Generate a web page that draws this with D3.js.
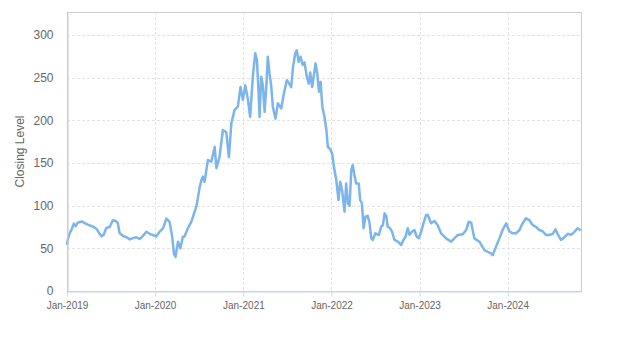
<!DOCTYPE html>
<html>
<head>
<meta charset="utf-8">
<script src="https://cdn.jsdelivr.net/npm/d3@7"></script>
<style>
  body { margin: 0; background: #fff; }
  svg { display: block; font-family: "Liberation Sans", Arial, sans-serif; }
</style>
</head>
<body>
<svg id="chart"></svg>
<script>
// Date di chiusura e livelli
const dates = [
  "2019-01-01","2019-01-04","2019-01-12","2019-01-20","2019-01-29","2019-02-06","2019-02-14","2019-03-03",
  "2019-03-19","2019-04-05","2019-04-22","2019-05-03","2019-05-16","2019-05-25","2019-06-02","2019-06-13",
  "2019-06-27","2019-07-10","2019-07-22","2019-07-30","2019-08-07","2019-08-21","2019-09-05","2019-09-18",
  "2019-10-01","2019-10-15","2019-10-29","2019-11-10","2019-11-26","2019-12-09","2019-12-23",
  "2020-01-06","2020-01-20","2020-02-03","2020-02-17","2020-03-01","2020-03-12","2020-03-19","2020-03-26",
  "2020-03-30","2020-04-05","2020-04-15","2020-04-25","2020-05-02","2020-05-16","2020-05-30","2020-06-13","2020-06-21",
  "2020-07-04","2020-07-11","2020-07-17","2020-07-24","2020-08-07","2020-08-21","2020-09-04","2020-09-11",
  "2020-09-24","2020-10-08","2020-10-22","2020-11-02","2020-11-12","2020-11-25","2020-12-09","2020-12-20",
  "2020-12-30",
  "2021-01-09","2021-01-20","2021-01-29","2021-02-09","2021-02-19","2021-02-26","2021-03-05","2021-03-09",
  "2021-03-16","2021-03-23","2021-03-30","2021-04-06","2021-04-12","2021-04-19","2021-04-26","2021-05-03",
  "2021-05-14","2021-05-24","2021-06-07","2021-06-14","2021-06-21","2021-06-30","2021-07-08","2021-07-18",
  "2021-07-25","2021-08-04","2021-08-10","2021-08-18","2021-08-26","2021-09-04","2021-09-11","2021-09-21",
  "2021-09-29","2021-10-05","2021-10-13","2021-10-19","2021-10-27","2021-11-03","2021-11-10","2021-11-17",
  "2021-11-24","2021-12-03","2021-12-11","2021-12-17","2021-12-27",
  "2022-01-04","2022-01-11","2022-01-21","2022-01-30","2022-02-06","2022-02-14","2022-02-24","2022-03-03",
  "2022-03-10","2022-03-17","2022-03-24","2022-03-30","2022-04-06","2022-04-13","2022-04-24","2022-04-30",
  "2022-05-07","2022-05-14","2022-05-22","2022-05-31","2022-06-07","2022-06-15","2022-06-21","2022-07-02",
  "2022-07-16","2022-07-26","2022-08-02","2022-08-09","2022-08-16","2022-08-22","2022-09-01","2022-09-09",
  "2022-09-19","2022-10-03","2022-10-17","2022-10-26","2022-11-04","2022-11-13","2022-11-20","2022-12-01",
  "2022-12-11","2022-12-20","2022-12-29",
  "2023-01-08","2023-01-17","2023-01-28","2023-02-04","2023-02-18","2023-03-04","2023-03-17","2023-03-31",
  "2023-04-21","2023-05-12","2023-05-25","2023-06-08","2023-06-29","2023-07-13","2023-07-24","2023-08-03",
  "2023-08-16","2023-09-06","2023-09-27","2023-10-10","2023-10-24","2023-10-31","2023-11-14","2023-11-28",
  "2023-12-11","2023-12-26",
  "2024-01-08","2024-01-22","2024-02-05","2024-02-19","2024-03-03","2024-03-17","2024-03-31","2024-04-14",
  "2024-04-28","2024-05-11","2024-05-25","2024-06-08","2024-06-22","2024-07-06","2024-07-17","2024-07-26",
  "2024-08-09","2024-08-23","2024-09-06","2024-09-20","2024-10-03","2024-10-17","2024-10-30"
];

const closes = [
  54, 60, 67.6, 72, 79, 76, 80, 81.5,
  79, 77, 75, 73, 67, 64, 66, 74,
  75, 83, 82, 80, 68, 64.5, 63, 60.5,
  62, 63, 61, 64, 69.5, 67, 65.6,
  64, 69.5, 73.5, 85, 81, 63.7, 44, 40,
  48, 57.8, 50, 63.7, 64, 73.5, 81, 93, 100,
  122, 130, 134, 128, 153.5, 151.5, 169, 144,
  157, 188.7, 186, 157, 196.5, 212, 216, 239,
  224,
  241, 224, 204, 251, 278.6, 270.7, 231.7, 204,
  251, 240, 210, 240, 274.6, 255, 241, 216,
  202, 220, 214, 226, 235.5, 247, 244, 239,
  261, 278.6, 282, 268.7, 274.6, 265, 268, 251,
  243, 256, 239, 251, 266.8, 255, 233.6, 245,
  216, 204, 188.6, 169, 166,
  161, 145.7, 130, 106.6, 128, 118, 93, 126,
  102.8, 100, 141.8, 147.7, 136, 126, 126, 106.6,
  103, 73.5, 87, 88, 81, 61.7, 59.8, 67.6,
  65.6, 75.4, 77, 91, 88, 75.4, 73.5, 69.5,
  59.8, 57.8, 53.9, 59.8, 63.7, 73.5, 66, 69.5,
  71.5, 63.7, 62,
  69.5, 79.3, 89, 89, 79.3, 82, 77, 67.6,
  61.7, 57.8, 61.7, 65.6, 66.5, 71.5, 81.2, 80,
  61.7, 57.8, 48, 46, 44, 42, 52, 61.7,
  71.5, 79.3,
  70, 67.6, 67.6, 71.5, 79.3, 85.2, 83, 77.3,
  75, 71.5, 70, 65.6, 65.6, 67, 72.3, 67,
  59.8, 63, 67, 66, 69, 73.5, 71
];

const yTicks = [0, 50, 100, 150, 200, 250, 300];
const xTicks = ["2019-01-01", "2020-01-01", "2021-01-01", "2022-01-01", "2023-01-01", "2024-01-01"];

const parseDate = d3.timeParse("%Y-%m-%d");
const data = dates.map((d, i) => ({ date: parseDate(d), value: closes[i] }));

// Dimensioni
const width = 623;
const height = 350;
const margin = { top: 12, right: 42, bottom: 59, left: 67 };

const svg = d3.select("#chart")
    .attr("width", width)
    .attr("height", height);

const x = d3.scaleTime()
    .domain([parseDate("2019-01-01"), parseDate("2024-10-31")])
    .range([margin.left, width - margin.right]);

const y = d3.scaleLinear()
    .domain([0, 327])
    .range([height - margin.bottom, margin.top]);

// Griglia orizzontale
svg.append("g")
    .selectAll("line")
    .data(yTicks)
    .enter().append("line")
    .attr("x1", margin.left)
    .attr("x2", width - margin.right)
    .attr("y1", d => Math.round(y(d)) + 0.5)
    .attr("y2", d => Math.round(y(d)) + 0.5)
    .attr("stroke", "#e3e3e3")
    .attr("stroke-dasharray", "3,2");

// Griglia verticale
svg.append("g")
    .selectAll("line")
    .data(xTicks.map(parseDate))
    .enter().append("line")
    .attr("x1", d => Math.round(x(d)) + 0.5)
    .attr("x2", d => Math.round(x(d)) + 0.5)
    .attr("y1", margin.top)
    .attr("y2", height - margin.bottom)
    .attr("stroke", "#e3e3e3")
    .attr("stroke-dasharray", "3,2");

// Bordo del grafico
svg.append("rect")
    .attr("x", margin.left + 0.5)
    .attr("y", margin.top + 0.5)
    .attr("width", width - margin.left - margin.right)
    .attr("height", height - margin.top - margin.bottom)
    .attr("fill", "none")
    .attr("stroke", "#cccccc");

// Linea dei prezzi
const line = d3.line()
    .x(d => x(d.date))
    .y(d => y(d.value));

svg.append("path")
    .datum(data)
    .attr("fill", "none")
    .attr("stroke", "#7cb5ec")
    .attr("stroke-width", 2.5)
    .attr("stroke-linejoin", "round")
    .attr("d", line);

// Asse X
const xAxis = svg.append("g")
    .attr("transform", `translate(0,${height - margin.bottom + 0.5})`)
    .call(d3.axisBottom(x)
        .tickValues(xTicks.map(parseDate))
        .tickFormat(d3.timeFormat("%b-%Y"))
        .tickSize(5)
        .tickSizeOuter(0));
xAxis.select(".domain").attr("stroke", "#ccd6eb");
xAxis.selectAll(".tick line").attr("stroke", "#ccd6eb");
xAxis.selectAll("text")
    .style("fill", "#666")
    .style("font-size", "10px")
    .attr("dy", "0.9em");

// Asse Y
const yAxis = svg.append("g")
    .attr("transform", `translate(${margin.left + 0.5},0)`)
    .call(d3.axisLeft(y).tickValues(yTicks).tickSize(0).tickPadding(14));
yAxis.select(".domain").attr("stroke", "#cccccc");
yAxis.selectAll("text")
    .style("fill", "#666")
    .style("font-size", "12px");

// Etichetta asse Y
svg.append("text")
    .attr("transform", `translate(24,${(margin.top + height - margin.bottom) / 2}) rotate(-90)`)
    .attr("text-anchor", "middle")
    .style("fill", "#666")
    .style("font-size", "12px")
    .text("Closing Level");
</script>
</body>
</html>
